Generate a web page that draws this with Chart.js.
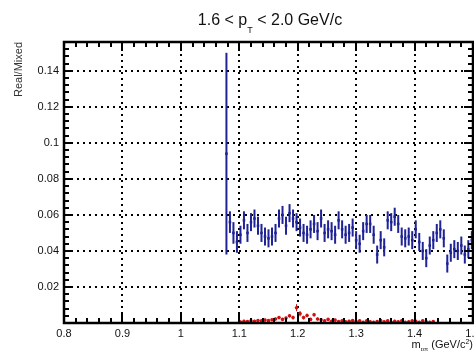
<!DOCTYPE html>
<html>
<head>
<meta charset="utf-8">
<script src="https://cdn.jsdelivr.net/npm/chart.js@4"></script>
<style>
  html, body { margin: 0; padding: 0; background: #fff; }
  #wrap { width: 474px; height: 351px; overflow: hidden; }
</style>
</head>
<body>
<div id="wrap"><canvas id="c" width="540" height="351"></canvas></div>
<script>
// m_ppi bin centres and Real/Mixed ratios (blue)
const blueMass = [
  1.078, 1.084, 1.090, 1.096, 1.102, 1.108, 1.114, 1.120, 1.126, 1.132,
  1.138, 1.144, 1.150, 1.156, 1.162, 1.168, 1.174, 1.180, 1.186, 1.192,
  1.198, 1.204, 1.210, 1.216, 1.222, 1.228, 1.234, 1.240, 1.246, 1.252,
  1.258, 1.264, 1.270, 1.276, 1.282, 1.288, 1.294, 1.300, 1.306, 1.312,
  1.318, 1.324, 1.330, 1.336, 1.342, 1.348, 1.354, 1.360, 1.366, 1.372,
  1.378, 1.384, 1.390, 1.396, 1.402, 1.408, 1.414, 1.420, 1.426, 1.432,
  1.438, 1.444, 1.450, 1.456, 1.462, 1.468, 1.474, 1.480, 1.486, 1.492, 1.498
]
const blueRatio = [
  0.094, 0.056, 0.050, 0.045, 0.049, 0.057, 0.050, 0.056, 0.058, 0.054,
  0.050, 0.048, 0.047, 0.048, 0.050, 0.058, 0.060, 0.054, 0.061, 0.058,
  0.056, 0.053, 0.050, 0.049, 0.052, 0.055, 0.051, 0.058, 0.050, 0.052,
  0.051, 0.049, 0.057, 0.052, 0.049, 0.050, 0.053, 0.046, 0.044, 0.051,
  0.055, 0.055, 0.049, 0.038, 0.046, 0.042, 0.057, 0.056, 0.059, 0.055,
  0.048, 0.047, 0.048, 0.046, 0.052, 0.045, 0.040, 0.036, 0.043, 0.046,
  0.050, 0.052, 0.047, 0.033, 0.039, 0.041, 0.040, 0.043, 0.038, 0.041, 0.046
]
const blueErr = [
  0.056, 0.006, 0.006, 0.006, 0.005, 0.005, 0.005, 0.005, 0.005, 0.005,
  0.005, 0.005, 0.005, 0.005, 0.005, 0.005, 0.005, 0.005, 0.005, 0.005,
  0.005, 0.005, 0.005, 0.005, 0.005, 0.005, 0.005, 0.005, 0.005, 0.005,
  0.005, 0.005, 0.005, 0.005, 0.005, 0.005, 0.005, 0.005, 0.005, 0.005,
  0.005, 0.005, 0.005, 0.005, 0.005, 0.005, 0.005, 0.005, 0.005, 0.005,
  0.005, 0.005, 0.005, 0.005, 0.005, 0.005, 0.005, 0.005, 0.005, 0.005,
  0.005, 0.005, 0.005, 0.005, 0.005, 0.005, 0.005, 0.005, 0.005, 0.005, 0.005
]

// second (red) series, sits just above zero
const redMass = [
  1.102, 1.108, 1.114, 1.120, 1.126, 1.132, 1.138, 1.144, 1.150, 1.156,
  1.162, 1.168, 1.174, 1.180, 1.186, 1.192, 1.198, 1.204, 1.210, 1.216,
  1.222, 1.228, 1.234, 1.240, 1.246, 1.252, 1.258, 1.264, 1.270, 1.276,
  1.282, 1.288, 1.294, 1.300, 1.306, 1.312, 1.318, 1.324, 1.330, 1.336,
  1.342, 1.348, 1.354, 1.360, 1.366, 1.372, 1.378, 1.384, 1.390, 1.396,
  1.402, 1.408, 1.414, 1.420, 1.426, 1.432
]
const redRatio = [
  0.0005, 0.0010, 0.0008, 0.0012, 0.0010, 0.0014, 0.0012, 0.0016, 0.0013, 0.0018,
  0.0022, 0.0030, 0.0020, 0.0028, 0.0040, 0.0030, 0.0085, 0.0052, 0.0030, 0.0042,
  0.0020, 0.0046, 0.0022, 0.0018, 0.0012, 0.0020, 0.0010, 0.0016, 0.0008, 0.0012,
  0.0006, 0.0010, 0.0014, 0.0008, 0.0012, 0.0004, 0.0012, 0.0006, 0.0004, 0.0008,
  0.0014, 0.0006, 0.0012, 0.0004, 0.0010, 0.0006, 0.0012, 0.0004, 0.0006, 0.0012,
  0.0010, 0.0004, 0.0012, 0.0006, 0.0004, 0.0008
]
const redErr = [
  0.0008, 0.0008, 0.0008, 0.0008, 0.0008, 0.0008, 0.0008, 0.0008, 0.0008, 0.0008,
  0.0008, 0.0008, 0.0008, 0.0008, 0.0010, 0.0010, 0.0020, 0.0015, 0.0010, 0.0010,
  0.0008, 0.0010, 0.0008, 0.0008, 0.0008, 0.0008, 0.0008, 0.0008, 0.0008, 0.0008,
  0.0008, 0.0008, 0.0008, 0.0008, 0.0008, 0.0008, 0.0008, 0.0008, 0.0008, 0.0008,
  0.0008, 0.0008, 0.0008, 0.0008, 0.0008, 0.0008, 0.0008, 0.0008, 0.0008, 0.0008,
  0.0008, 0.0008, 0.0008, 0.0008, 0.0008, 0.0008
]

const X_MIN = 0.8, X_MAX = 1.5
const Y_MIN = 0, Y_MAX = 0.156
const BLUE = "#1f2396"
const RED = "#d01010"
const FONT = '"Liberation Sans", Arial, sans-serif'

const toPoints = (xs, ys) => xs.map((x, i) => ({ x, y: ys[i] }))

// vertical error bars, drawn under the markers
const errorBars = {
  id: "errorBars",
  beforeDatasetsDraw(chart) {
    const { ctx, chartArea, scales: { x, y } } = chart
    ctx.save()
    ctx.beginPath()
    ctx.rect(chartArea.left, chartArea.top, chartArea.width, chartArea.height)
    ctx.clip()
    chart.data.datasets.forEach(ds => {
      ctx.strokeStyle = ds.borderColor
      ctx.lineWidth = ds.errWidth
      ds.data.forEach((p, i) => {
        const px = x.getPixelForValue(p.x)
        ctx.beginPath()
        ctx.moveTo(px, y.getPixelForValue(p.y - ds.errors[i]))
        ctx.lineTo(px, y.getPixelForValue(p.y + ds.errors[i]))
        ctx.stroke()
      })
    })
    ctx.restore()
  }
}

// ROOT style frame with inward ticks on all four sides, plus titles
const frame = {
  id: "frame",
  afterDraw(chart) {
    const { ctx, chartArea: a, scales: { x, y } } = chart
    ctx.save()
    ctx.strokeStyle = "#000"
    ctx.lineWidth = 2
    for (let k = 0; k <= 35; k++) {
      const px = Math.round(x.getPixelForValue(X_MIN + k * 0.02))
      const len = k % 5 === 0 ? 9 : 5
      ctx.beginPath()
      ctx.moveTo(px, a.bottom); ctx.lineTo(px, a.bottom - len)
      ctx.moveTo(px, a.top); ctx.lineTo(px, a.top + len)
      ctx.stroke()
    }
    for (let k = 0; k <= 39; k++) {
      const py = Math.round(y.getPixelForValue(k * 0.004))
      const len = k % 5 === 0 ? 9 : 5
      ctx.beginPath()
      ctx.moveTo(a.left, py); ctx.lineTo(a.left + len, py)
      ctx.moveTo(a.right, py); ctx.lineTo(a.right - len, py)
      ctx.stroke()
    }
    ctx.lineWidth = 2.5
    ctx.strokeRect(a.left, a.top, a.right - a.left, a.bottom - a.top)

    ctx.fillStyle = "#111"
    ctx.textBaseline = "alphabetic"
    ctx.textAlign = "left"
    // title: 1.6 < p_T < 2.0 GeV/c
    const t = [["1.6 < p", 16, 0], ["T", 9, 8], [" < 2.0 GeV/c", 16, 0]]
    drawRich(ctx, t, 270, 25, "center")
    // x title: m_{p pi} (GeV/c^2)
    const xt = [["m", 11, 0], ["p\u03c0", 6, 3], [" (GeV/c", 11, 0], ["2", 7, -4], [")", 11, 0]]
    drawRich(ctx, xt, 473, 348, "right")
    ctx.restore()
  }
}

function drawRich(ctx, parts, anchor, base, align) {
  let w = 0
  parts.forEach(([s, size]) => { ctx.font = size + "px " + FONT; w += ctx.measureText(s).width })
  let cx = align === "center" ? anchor - w / 2 : anchor - w
  parts.forEach(([s, size, dy]) => {
    ctx.font = size + "px " + FONT
    ctx.fillText(s, cx, base + dy)
    cx += ctx.measureText(s).width
  })
}

new Chart(document.getElementById("c"), {
  type: "scatter",
  data: {
    datasets: [
      {
        label: "Real/Mixed",
        data: toPoints(blueMass, blueRatio),
        errors: blueErr,
        errWidth: 2,
        borderColor: BLUE,
        backgroundColor: BLUE,
        pointStyle: "rect",
        pointRadius: 1.8,
        borderWidth: 0
      },
      {
        label: "red",
        data: toPoints(redMass, redRatio),
        errors: redErr,
        errWidth: 1,
        borderColor: RED,
        backgroundColor: RED,
        pointStyle: "circle",
        pointRadius: 1.8,
        borderWidth: 0
      }
    ]
  },
  options: {
    responsive: false,
    animation: false,
    devicePixelRatio: 1,
    layout: { padding: { top: 42, right: 67, left: 0, bottom: 0 } },
    plugins: { legend: { display: false }, tooltip: { enabled: false } },
    scales: {
      x: {
        type: "linear",
        min: X_MIN,
        max: X_MAX,
        afterFit: s => { s.height = 28 },
        ticks: {
          stepSize: 0.1,
          padding: 4,
          color: "#111",
          font: { family: FONT, size: 11 },
          maxRotation: 0,
          callback: v => String(Number(v.toFixed(2)))
        },
        grid: { color: "#000", lineWidth: 2, drawTicks: false },
        border: { color: "#000", width: 2, dash: [2, 4] }
      },
      y: {
        min: Y_MIN,
        max: Y_MAX,
        afterFit: s => { s.width = 64 },
        ticks: {
          stepSize: 0.02,
          includeBounds: false,
          padding: 5,
          color: "#111",
          font: { family: FONT, size: 11 },
          callback: v => (v === 0 ? "" : String(Number(v.toFixed(3))))
        },
        grid: { color: "#000", lineWidth: 2, drawTicks: false },
        border: { color: "#000", width: 2, dash: [2, 4] },
        title: {
          display: true,
          text: "Real/Mixed",
          align: "end",
          color: "#333",
          font: { family: FONT, size: 11 },
          padding: { top: 12, bottom: 0 }
        }
      }
    }
  },
  plugins: [errorBars, frame]
})
</script>
</body>
</html>
